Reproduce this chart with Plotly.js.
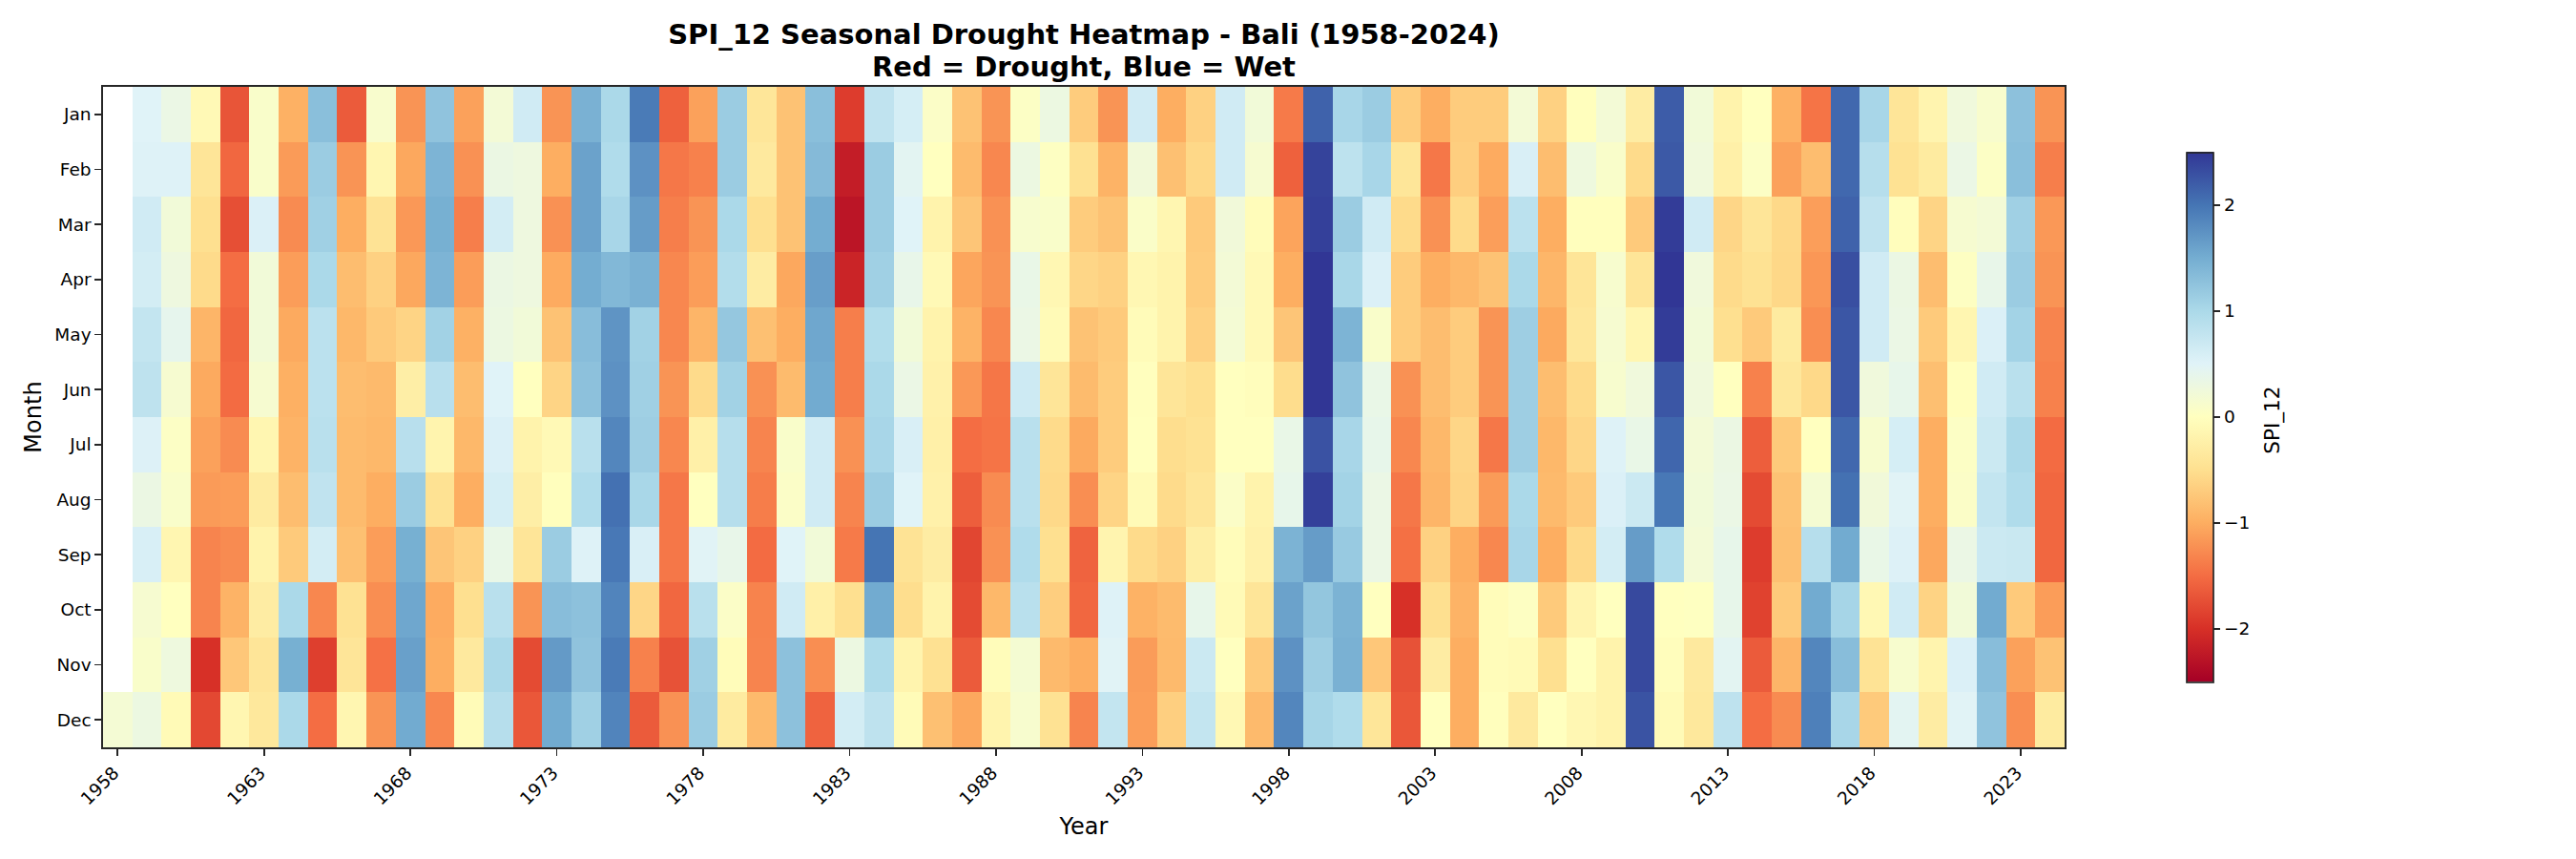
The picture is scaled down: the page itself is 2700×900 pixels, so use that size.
<!DOCTYPE html>
<html>
<head>
<meta charset="utf-8">
<script src="https://cdn.plot.ly/plotly-3.0.1.min.js"></script>
<style>html,body{margin:0;padding:0;background:#fff}</style>
</head>
<body>
<div id="chart" style="width:2700px;height:900px"></div>
<script>
const years = [1958,1959,1960,1961,1962,1963,1964,1965,1966,1967,1968,1969,1970,1971,1972,1973,1974,1975,1976,1977,1978,1979,1980,1981,1982,1983,1984,1985,1986,1987,1988,1989,1990,1991,1992,1993,1994,1995,1996,1997,1998,1999,2000,2001,2002,2003,2004,2005,2006,2007,2008,2009,2010,2011,2012,2013,2014,2015,2016,2017,2018,2019,2020,2021,2022,2023,2024];
const months = ['Jan','Feb','Mar','Apr','May','Jun','Jul','Aug','Sep','Oct','Nov','Dec'];
const yearTicks = [1958,1963,1968,1973,1978,1983,1988,1993,1998,2003,2008,2013,2018,2023];

const jan = [null,.5,.33,-.1,-1.7,.1,-.97,1.3,-1.65,.12,-1.2,1.25,-1.1,.2,.65,-1.2,1.45,1.0,1.95,-1.6,-1.1,1.15,-.4,-.8,1.3,-1.9,.8,.6,.07,-.8,-1.2,.05,.3,-.7,-1.2,.65,-1.0,-.65,.65,.22,-1.4,2.15,1.03,1.15,-.7,-1.0,-.7,-.7,.2,-.65,-.02,.2,-.3,2.2,.22,-.2,0,-.97,-1.45,2.1,1.03,-.42,-.17,.25,.12,1.27,-1.2];
const feb = [null,.52,.52,-.42,-1.55,.1,-1.15,1.15,-1.2,-.15,-1.05,1.42,-1.22,.32,.28,-1.0,1.6,.95,1.75,-1.42,-1.35,1.15,-.35,-.8,1.35,-2.2,1.15,.45,0,-.87,-1.3,.3,.03,-.48,-.95,.23,-.82,-.58,.65,.15,-1.6,2.4,.83,1.03,-.4,-1.42,-.68,-1.02,.57,-.85,.27,.1,-.55,2.22,.25,-.25,.05,-1.1,-.85,2.1,.9,-.47,-.33,.33,.05,1.3,-1.37];
const mar = [null,.65,.22,-.5,-1.75,.55,-1.27,1.1,-1.0,-.45,-1.17,1.47,-1.37,.62,.28,-1.22,1.6,1.03,1.65,-1.37,-1.2,1.0,-.5,-.8,1.5,-2.28,1.15,.5,-.2,-.77,-1.22,.13,.1,-.7,-.8,.08,-.15,-.72,.23,-.05,-1.08,2.42,1.15,.65,-.55,-1.22,-.55,-1.12,.85,-1.0,-.02,-.02,-.72,2.45,.65,-.6,-.42,-.57,-1.12,2.15,.8,-.03,-.62,.15,.2,1.1,-1.17];
const apr = [null,.62,.28,-.55,-1.5,.22,-1.13,1.0,-.85,-.65,-1.05,1.42,-1.13,.32,.28,-1.02,1.5,1.37,1.45,-1.3,-1.13,.92,-.3,-1.05,1.63,-2.13,1.1,.37,-.1,-1.06,-1.2,.35,-.13,-.6,-.65,-.13,-.2,-.7,.2,-.1,-1.0,2.5,1.02,.55,-.7,-1.0,-.9,-.8,1.0,-.92,-.42,.13,-.42,2.5,.25,-.55,-.47,-.58,-1.18,2.3,.65,.32,-.85,.03,.37,1.15,-1.2];
const may = [null,.77,.4,-.93,-1.55,.22,-1.03,.85,-.9,-.72,-.62,1.08,-.97,.3,.22,-.8,1.32,1.72,1.08,-1.3,-.93,1.2,-.82,-1.0,1.55,-1.37,.93,.22,-.2,-.95,-1.3,.33,-.08,-.8,-.72,-.06,-.2,-.65,.18,-.1,-.77,2.5,1.42,.1,-.7,-.85,-.7,-1.2,1.12,-1.03,-.38,.15,-.15,2.45,.22,-.5,-.72,-.33,-1.25,2.25,.65,.33,-.72,-.15,.55,1.07,-1.32];
const jun = [null,.82,.15,-1.03,-1.52,.15,-.98,.85,-.85,-.88,-.27,.88,-.85,.5,0,-.62,1.27,1.75,1.1,-1.2,-.55,1.08,-1.22,-.87,1.52,-1.37,1.0,.33,-.22,-1.17,-1.43,.68,-.42,-.87,-.7,-.01,-.42,-.5,0,-.03,-.53,2.5,1.25,.35,-1.22,-.85,-.7,-1.2,1.12,-.85,-.55,.13,.25,2.25,.25,0,-1.35,-.38,-.57,2.25,.25,.38,-.83,-.02,.65,.87,-1.35];
const jul = [null,.53,.05,-1.1,-1.27,-.15,-.95,.87,-.87,-.9,.88,-.18,-.9,.55,-.2,-.1,.87,1.85,1.12,-1.3,-.25,.9,-1.32,.1,.65,-1.22,1.03,.57,-.25,-1.5,-1.45,.87,-.55,-1.03,-.7,0,-.52,-.47,0,0,.35,2.28,1.03,.38,-1.3,-.9,-.6,-1.42,1.12,-.9,-.6,.52,.35,2.12,.2,.32,-1.62,-.72,0,2.1,.13,.6,-1.0,.05,.7,1.0,-1.52];
const aug = [null,.32,.1,-1.15,-1.13,-.32,-.85,.8,-.87,-1.0,1.15,-.47,-1.0,.6,-.27,-.02,.95,2.03,1.02,-1.42,0,.9,-1.38,.07,.65,-1.32,1.15,.5,-.22,-1.62,-1.27,.87,-.57,-1.25,-.62,-.08,-.55,-.42,.07,-.2,.38,2.42,1.07,.33,-1.42,-.93,-.62,-1.15,1.0,-.88,-.72,.55,.7,1.97,.22,.33,-1.78,-.8,.17,2.03,.23,.48,-1.0,.07,.77,.95,-1.55];
const sep = [null,.58,-.15,-1.32,-1.27,-.2,-.72,.62,-.82,-1.13,1.47,-.77,-.65,.35,-.42,1.15,.52,1.97,.57,-1.42,.48,.37,-1.52,.5,.22,-1.4,2.0,-.45,-.3,-1.82,-1.22,.95,-.5,-1.58,-.17,-.55,-.65,-.28,-.05,-.22,1.43,1.65,1.17,.33,-1.48,-.65,-1.0,-1.3,1.03,-1.0,-.57,.62,1.65,.95,.2,.38,-1.9,-.82,.9,1.52,.35,.53,-1.05,.33,.7,.72,-1.55];
const oct = [null,.15,0,-1.32,-.95,-.3,1.0,-1.3,-.47,-1.25,1.55,-1.02,-.5,.87,-1.2,1.32,1.27,1.87,-.6,-1.55,.87,.07,-1.33,.65,-.25,-.5,1.52,-.52,-.2,-1.78,-.9,.87,-.68,-1.55,.52,-.96,-.87,.38,-.08,-.42,1.6,1.22,1.43,0,-2.0,-.5,-.95,-.05,.03,-.72,-.17,0,2.35,0,.02,.38,-1.85,-.72,1.52,1.05,-.12,.65,-.63,.22,1.52,-.72,-1.13];
const nov = [null,.1,.27,-2.0,-.75,-.42,1.47,-1.88,-.42,-1.47,1.62,-1.0,-.35,1.0,-1.78,1.67,1.25,1.95,-1.35,-1.72,1.1,-.05,-1.32,1.27,-1.25,.3,.97,-.18,-.48,-1.65,-.05,.17,-.88,-1.0,.48,-1.14,-.88,.7,0,-.72,1.75,1.12,1.45,-.75,-1.72,-.3,-1.0,-.05,-.08,-.5,0,-.2,2.35,-.03,-.35,.45,-1.65,-.93,1.85,1.32,-.45,.13,-.18,.55,1.32,-1.1,-.8];
const dec = [.18,.3,-.08,-1.8,-.15,-.37,1.0,-1.5,-.15,-1.2,1.52,-1.3,-.07,.9,-1.68,1.52,1.1,1.87,-1.65,-1.22,1.15,-.33,-.88,1.27,-1.58,.62,.82,-.07,-.82,-1.05,-.18,.13,-.47,-1.32,.77,-1.12,-.67,.77,-.12,-.88,1.85,1.05,.95,-.4,-1.68,0,-1.0,-.02,-.35,0,-.13,-.2,2.27,-.08,-.37,.82,-1.5,-1.27,1.9,1.03,-.72,.45,-.3,.48,1.25,-1.25,-.33];
const spiValues = [jan,feb,mar,apr,may,jun,jul,aug,sep,oct,nov,dec];

const rdYlBu = ['#a50026','#d73027','#f46d43','#fdae61','#fee090','#ffffbf','#e0f3f8','#abd9e9','#74add1','#4575b4','#313695'];
const spineColor = '#262626';

const trace = {
  type: 'heatmap',
  x: years,
  y: months,
  z: spiValues,
  zmin: -2.5,
  zmax: 2.5,
  zsmooth: false,
  colorscale: rdYlBu.map((c, i) => [i / 10, c]),
  hoverongaps: false,
  colorbar: {
    xref: 'paper', x: 1.0622, xanchor: 'left', xpad: 0,
    yref: 'paper', y: 0.5, yanchor: 'middle', ypad: 0,
    thickness: 28, thicknessmode: 'pixels',
    len: 555, lenmode: 'pixels',
    outlinecolor: spineColor, outlinewidth: 1.7,
    tickmode: 'array', tickvals: [-2,-1,0,1,2],
    ticks: 'outside', ticklen: 7, tickwidth: 1.7, tickcolor: spineColor,
    tickfont: {family: 'DejaVu Sans', size: 18.5, color: '#000'}
  }
};

const layout = {
  width: 2700, height: 900,
  paper_bgcolor: '#fff', plot_bgcolor: '#fff',
  margin: {l: 107.5, r: 536, t: 90.5, b: 117, pad: 0},
  title: {
    text: '<b>SPI_12 Seasonal Drought Heatmap - Bali (1958-2024)</b>',
    font: {family: 'DejaVu Sans', size: 29, color: '#000'},
    x: 1136 / 2700, xanchor: 'center', xref: 'container',
    y: 1 - 36 / 900, yanchor: 'middle', yref: 'container'
  },
  annotations: [{
    text: '<b>Red = Drought, Blue = Wet</b>',
    xref: 'paper', yref: 'paper', x: 0.5, y: 1, yshift: 21, yanchor: 'middle', xanchor: 'center', showarrow: false,
    font: {family: 'DejaVu Sans', size: 29, color: '#000'}
  }, {
    text: 'SPI_12',
    xref: 'paper', yref: 'paper', x: 1.1060, y: 0.496, xanchor: 'center', yanchor: 'middle', textangle: -90, showarrow: false,
    font: {family: 'DejaVu Sans', size: 21.5, color: '#000'}
  }],
  xaxis: {
    type: 'linear',
    range: [1957.5, 2024.5],
    tickmode: 'array', tickvals: yearTicks,
    ticktext: yearTicks.map(String),
    tickangle: -45,
    ticklabelshift: -4,
    ticks: 'outside', ticklen: 7, tickwidth: 1.7, tickcolor: spineColor,
    tickfont: {family: 'DejaVu Sans', size: 18.5, color: '#000'},
    showline: true, linecolor: spineColor, linewidth: 1.7, mirror: true,
    showgrid: false, zeroline: false,
    title: {text: 'Year', font: {family: 'DejaVu Sans', size: 24, color: '#000'}, standoff: 11}
  },
  yaxis: {
    type: 'category',
    categoryorder: 'array', categoryarray: months,
    autorange: 'reversed',
    ticks: 'outside', ticklen: 7, tickwidth: 1.7, tickcolor: spineColor,
    tickfont: {family: 'DejaVu Sans', size: 18.5, color: '#000'},
    showline: true, linecolor: spineColor, linewidth: 1.7, mirror: true,
    showgrid: false, zeroline: false,
    title: {text: 'Month', font: {family: 'DejaVu Sans', size: 24, color: '#000'}, standoff: 7}
  }
};

Plotly.newPlot('chart', [trace], layout, {displayModeBar: false, staticPlot: true});
</script>
</body>
</html>
